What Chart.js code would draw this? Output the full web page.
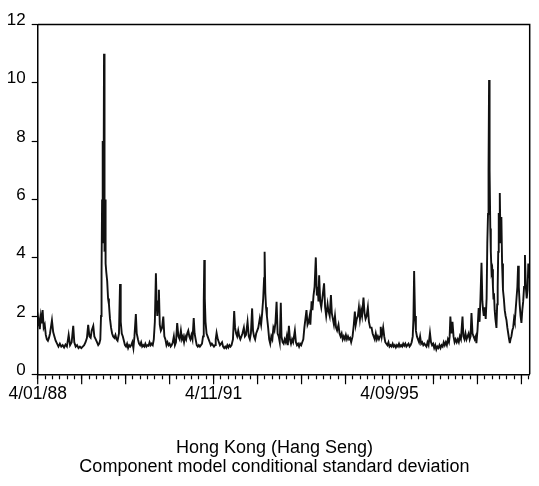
<!DOCTYPE html>
<html>
<head>
<meta charset="utf-8">
<script src="https://cdn.jsdelivr.net/npm/chart.js@4.4.1/dist/chart.umd.min.js"></script>
<style>
html,body{margin:0;padding:0;background:#fff;}
#wrap{width:539px;height:486px;position:relative;}
</style>
</head>
<body>
<div id="wrap"><canvas id="c" width="539" height="486"></canvas></div>
<script>
// observation index (trading days since 4/01/88)
const obsIndex = [0,6,12,18,24,28,34,40,46,52,58,64,70,81,88,95,102,110,118,126,134,142,150,158,166,176,184,193,202,208,216,224,232,240,248,256,264,272,280,287,294,301,307,316,322,330,337,344,350,356,360,363,366,368,371,374,377,380,383,386,390,395,400,405,411,417,423,429,436,442,448,454,462,468,472,478,484,490,496,502,508,514,520,526,532,538,544,550,558,563,570,576,582,588,594,600,606,612,618,624,630,636,642,648,654,660,666,672,676,680,685,689,694,700,707,714,720,726,732,738,744,750,756,762,768,774,780,786,793,800,807,814,820,826,832,838,844,850,856,862,868,874,880,887,892,898,904,910,916,922,928,934,940,944,947,950,954,960,966,972,978,984,990,996,1002,1008,1012,1017,1024,1030,1036,1042,1048,1054,1060,1066,1072,1078,1084,1090,1096,1102,1110,1117,1122,1128,1134,1140,1146,1152,1158,1164,1172,1178,1184,1193,1200,1206,1212,1219,1224,1230,1236,1242,1248,1254,1263,1270,1276,1282,1287,1290,1294,1298,1303,1310,1316,1322,1328,1334,1340,1346,1352,1358,1364,1370,1376,1382,1386,1392,1398,1404,1410,1416,1422,1428,1434,1440,1446,1452,1462,1468,1474,1480,1486,1492,1498,1504,1510,1516,1522,1528,1534,1540,1546,1550,1557,1562,1568,1574,1581,1587,1592,1596,1600,1606,1612,1618,1628,1634,1640,1648,1652,1660,1667,1672,1678,1684,1690,1696,1702,1710,1716,1722,1728,1734,1740,1746,1752,1758,1764,1770,1776,1782,1790,1797,1803,1808,1814,1820,1826,1832,1838,1844,1852,1858,1864,1870,1877,1883,1890,1898,1904,1910,1916,1922,1928,1934,1940,1946,1950,1956,1964,1970,1976,1982,1988,1994,2000,2006,2012,2018,2024,2030,2036,2042,2048,2054,2060,2066,2072,2078,2084,2090,2096,2102,2108,2114,2120,2126,2132,2136,2140,2145,2150,2156,2162,2168,2174,2180,2186,2192,2198,2204,2210,2216,2222,2230,2236,2242,2248,2254,2260,2266,2272,2278,2284,2290,2296,2302,2308,2314,2320,2326,2332,2338,2342,2346,2352,2358,2364,2370,2376,2382,2388,2394,2400,2406,2415,2420,2426,2432,2438,2444,2450,2456,2461,2466,2472,2478,2484,2490,2494,2500,2507,2512,2517,2523,2528,2532,2536,2541,2547,2552,2556,2560,2563,2566,2569,2573,2576,2580,2584,2588,2591,2594,2598,2602,2608,2612,2615,2618,2621,2624,2627,2631,2636,2640,2645,2650,2655,2660,2665,2670,2675,2680,2684,2688,2693,2698,2703,2708,2712,2717,2722,2727,2731,2735,2740,2745,2750,2755,2760,2765,2770,2775,2780,2785,2789,2793,2797];
// conditional standard deviation
const condSD = [1.65,1.9,1.55,2.0,1.75,2.2,1.6,1.7,1.35,1.2,1.15,1.25,1.4,1.85,1.45,1.3,1.15,1.05,0.95,1.05,0.95,1.0,0.92,1.02,0.95,1.35,1.0,1.1,1.66,1.1,0.95,1.0,0.9,0.95,0.9,0.95,1.0,1.1,1.25,1.7,1.3,1.25,1.5,1.66,1.3,1.2,1.1,1.0,1.05,1.2,2.0,3.5,6.0,4.5,8.0,5.0,11.0,4.2,6.0,3.8,3.5,3.2,2.6,2.4,1.9,1.6,1.4,1.3,1.25,1.35,1.2,1.15,1.4,3.1,1.8,1.4,1.3,1.15,1.0,0.95,1.05,0.9,1.0,0.95,1.0,1.1,0.9,1.3,2.07,1.4,1.2,1.05,1.0,1.1,0.95,1.0,0.95,1.05,0.95,1.0,0.98,1.1,1.0,1.05,1.0,1.2,1.8,3.47,2.4,2.0,2.5,2.9,1.7,1.5,1.6,1.98,1.3,1.2,1.0,1.1,1.0,1.05,0.95,1.0,1.1,1.3,1.0,1.1,1.76,1.3,1.2,1.5,1.2,1.3,1.1,1.3,1.2,1.4,1.5,1.3,1.2,1.35,1.2,1.93,1.4,1.2,1.0,0.95,1.0,0.95,1.0,1.05,1.3,2.5,3.92,2.6,1.8,1.4,1.3,1.2,1.1,1.0,1.05,1.0,0.95,1.0,1.2,1.42,1.2,1.1,1.0,1.05,1.1,0.95,0.9,0.95,0.9,1.0,0.92,1.0,0.95,1.0,1.2,2.17,1.6,1.4,1.3,1.5,1.3,1.2,1.3,1.4,1.6,1.3,1.35,1.8,1.3,1.2,1.4,2.26,1.5,1.3,1.2,1.4,1.5,1.6,1.93,1.7,2.1,2.6,3.3,4.2,2.8,2.3,2.0,1.6,1.2,1.05,1.3,1.2,1.6,1.5,1.8,2.49,1.4,1.3,1.1,2.45,1.3,1.1,1.05,1.2,1.1,1.3,1.0,1.66,1.2,1.05,1.2,1.1,1.5,1.1,1.0,1.05,0.95,1.05,1.0,1.1,1.2,1.6,1.9,2.2,1.7,1.8,2.0,1.7,2.5,2.2,2.7,3.0,4.01,2.7,3.0,2.5,3.4,2.5,2.3,2.6,3.12,2.3,2.0,2.4,2.2,2.0,2.72,2.1,1.9,1.7,2.0,1.6,1.5,1.7,1.4,1.3,1.4,1.2,1.3,1.2,1.35,1.2,1.3,1.2,1.25,1.1,1.3,1.7,2.15,1.7,1.9,2.0,2.3,1.9,2.2,2.0,2.63,2.1,1.9,2.0,2.3,1.8,1.6,1.6,1.4,1.3,1.2,1.4,1.2,1.3,1.2,1.3,1.63,1.3,1.6,1.3,1.1,1.05,1.0,1.1,0.95,1.0,0.95,1.05,0.95,1.0,0.92,1.0,0.95,1.05,0.95,1.0,0.95,1.05,0.98,1.05,0.95,1.0,1.05,0.95,1.0,1.1,1.3,1.9,3.54,2.0,1.5,1.3,1.2,1.1,1.3,1.05,1.1,1.0,1.05,1.0,0.95,1.1,1.0,1.42,1.1,1.0,1.05,0.9,1.0,0.85,0.95,0.9,1.0,0.9,1.0,0.95,1.1,1.0,1.1,1.0,1.2,1.1,1.3,1.98,1.4,1.8,1.3,1.1,1.2,1.1,1.2,1.1,1.3,1.2,1.98,1.3,1.2,1.4,1.2,1.3,1.4,1.2,1.3,2.1,1.4,1.3,1.2,1.3,1.07,1.5,2.27,1.8,2.6,3.83,2.5,2.2,2.0,2.3,1.9,2.6,4.5,5.5,7.0,10.1,7.0,5.0,4.2,3.5,3.6,3.0,2.6,2.78,2.2,1.9,1.59,2.4,3.0,4.2,5.53,4.8,6.22,4.5,5.4,3.8,2.9,2.6,2.2,2.0,1.86,1.6,1.4,1.2,1.07,1.2,1.3,1.5,1.6,1.9,1.8,2.2,2.6,3.0,3.72,3.0,2.4,2.0,1.76,2.2,2.5,3.0,4.09,3.0,2.6,2.9,3.8,3.3,3.5];
// axis definitions
const yTicks = [0,2,4,6,8,10,12];
const xLabelObs = [0,1000,2000];
const xLabels = ['4/01/88','4/11/91','4/09/95'];
const obsPerMajor = 250;
const minorPerMajor = 6;
const obsMax = 2797;
const titleLines = ['Hong Kong (Hang Seng)','Component model conditional standard deviation'];

const FONT = "'Liberation Sans', Arial, sans-serif";
const points = obsIndex.map((o,i)=>({x:o,y:condSD[i]}));

const framePlugin = {
  id:'frame',
  afterDraw(chart){
    const {ctx, chartArea:a, scales:{x}} = chart;
    ctx.save();
    ctx.strokeStyle='#000';
    ctx.lineWidth=1.5;
    ctx.beginPath();
    ctx.moveTo(a.left, a.top); ctx.lineTo(a.right, a.top); ctx.lineTo(a.right, a.bottom);
    ctx.stroke();
    ctx.lineWidth=1.2;
    ctx.beginPath();
    for(let v=0; v<=obsMax; v+=obsPerMajor){
      const px = x.getPixelForValue(v);
      ctx.moveTo(px, a.bottom); ctx.lineTo(px, a.bottom+10);
    }
    ctx.stroke();
    // caption below the chart
    ctx.fillStyle='#000';
    ctx.font = "18px " + FONT;
    ctx.textAlign='center';
    ctx.textBaseline='middle';
    titleLines.forEach((t,i)=>ctx.fillText(t, 274.5, 447.6 + i*19.1));
    ctx.restore();
  }
};

new Chart(document.getElementById('c'), {
  type:'line',
  data:{datasets:[{data:points,borderColor:'#111',borderWidth:1.9,pointRadius:0,tension:0,fill:false}]},
  options:{
    responsive:false,
    animation:false,
    layout:{padding:{left:0,right:9.3,top:24.5,bottom:0}},
    plugins:{
      legend:{display:false},
      tooltip:{enabled:false},
      title:{display:false}
    },
    scales:{
      x:{type:'linear',min:0,max:obsMax,
        afterBuildTicks(s){
          const t=[]; const step=obsPerMajor/minorPerMajor;
          for(let k=0;k*step<=obsMax+0.01;k++) t.push({value:k*step});
          s.ticks=t;
        },
        afterFit(s){ s.height=486-374.3; },
        grid:{drawOnChartArea:false,drawTicks:true,tickLength:5,tickColor:'#000',tickWidth:1.2},
        border:{display:true,color:'#000',width:1.5},
        ticks:{autoSkip:false,maxRotation:0,minRotation:0,padding:4,color:'#000',
          font:{family:FONT,size:17.5},
          callback(v,i){
            const j = xLabelObs.findIndex(o=>Math.abs(o-v)<1);
            return j>=0 ? xLabels[j] : '';
          }}
      },
      y:{type:'linear',min:0,max:12,
        afterBuildTicks(s){ s.ticks = yTicks.map(v=>({value:v})); },
        afterFit(s){ s.width = 37.7; },
        grid:{drawOnChartArea:false,drawTicks:true,tickLength:6,tickColor:'#000',tickWidth:1.2},
        border:{display:true,color:'#000',width:1.5},
        ticks:{padding:6,color:'#000',labelOffset:-4,font:{family:FONT,size:17},
          callback(v){ return String(v); }}
      }
    }
  },
  plugins:[framePlugin]
});
</script>
</body>
</html>
